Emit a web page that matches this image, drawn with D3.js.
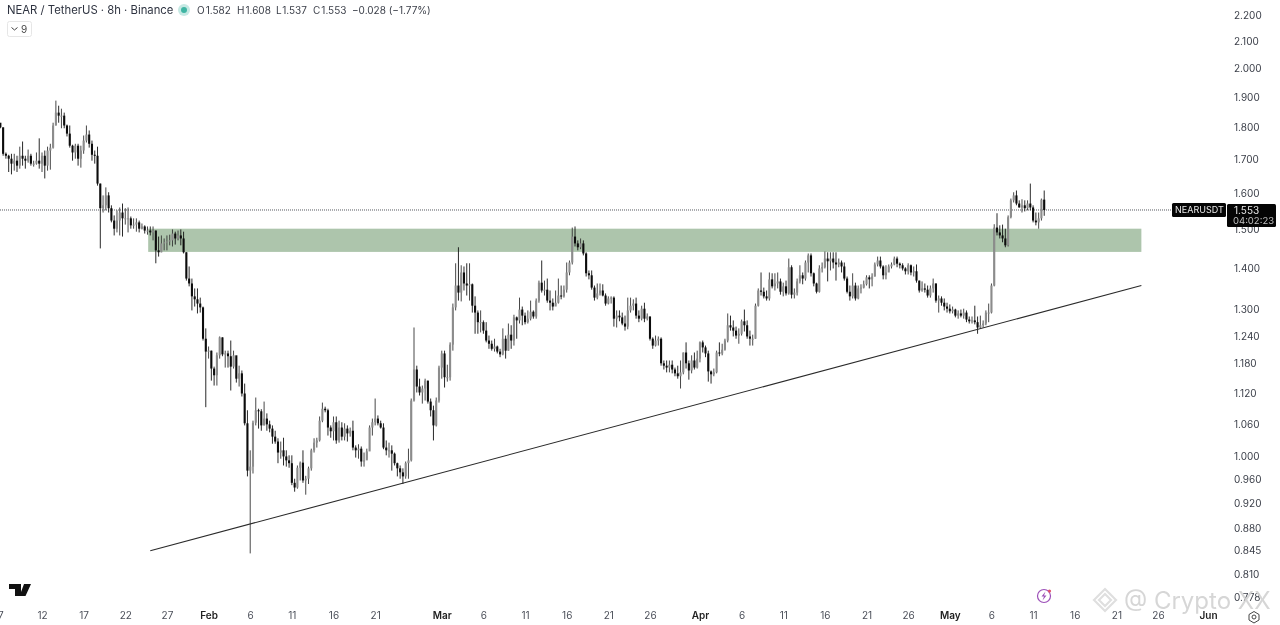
<!DOCTYPE html>
<html><head><meta charset="utf-8">
<script src="https://cdn.jsdelivr.net/npm/d3@7"></script>
<style>
html,body{margin:0;padding:0;background:#fff;overflow:hidden}
svg{display:block;filter:blur(0.3px)}
text{font-family:"Inter","Liberation Sans",sans-serif}
.axis text{font-size:10px;fill:#3a3e48}
.axis path,.axis line{display:none}
</style></head><body>
<svg id="c" width="1280" height="625"></svg>
<script>
const firstOpen = 1.815;
const closes = [
1.800,1.717,1.711,1.702,1.687,1.696,1.681,1.711,1.702,1.696,
1.711,1.687,1.687,1.696,1.687,1.711,1.681,1.727,1.736,1.806,
1.848,1.838,1.838,1.806,1.780,1.742,1.721,1.742,1.702,1.727,
1.758,1.777,1.748,1.714,1.711,1.628,1.558,1.566,1.594,1.558,
1.524,1.502,1.524,1.546,1.530,1.530,1.530,1.511,1.513,1.519,
1.502,1.508,1.497,1.497,1.492,1.497,1.445,1.440,1.463,1.466,
1.468,1.471,1.489,1.476,1.484,1.476,1.440,1.374,1.362,1.331,
1.324,1.314,1.305,1.234,1.206,1.208,1.170,1.156,1.198,1.237,
1.200,1.202,1.196,1.174,1.198,1.149,1.160,1.119,1.061,0.975,
0.982,1.062,1.086,1.084,1.057,1.070,1.059,1.051,1.036,1.027,
1.007,1.011,1.000,0.993,0.988,0.954,0.946,0.980,0.989,0.958,
0.961,0.979,1.011,1.025,1.029,1.066,1.089,1.086,1.053,1.046,
1.063,1.029,1.053,1.036,1.051,1.042,1.047,1.016,1.011,1.014,
0.991,0.993,1.009,1.053,1.063,1.070,1.061,1.053,1.016,1.011,
1.011,1.005,0.988,0.979,0.972,0.965,0.988,0.993,1.105,1.168,
1.133,1.121,1.129,1.145,1.103,1.086,1.057,1.105,1.172,1.202,
1.152,1.152,1.221,1.305,1.357,1.340,1.389,1.362,1.357,1.360,
1.309,1.293,1.271,1.271,1.252,1.230,1.223,1.212,1.217,1.206,
1.200,1.234,1.208,1.243,1.230,1.282,1.275,1.300,1.286,1.271,
1.279,1.295,1.284,1.321,1.364,1.345,1.347,1.321,1.316,1.307,
1.316,1.333,1.331,1.347,1.389,1.414,1.481,1.463,1.453,1.463,
1.437,1.387,1.382,1.352,1.328,1.338,1.345,1.333,1.314,1.326,
1.328,1.279,1.286,1.282,1.268,1.261,1.298,1.309,1.314,1.286,
1.279,1.302,1.279,1.284,1.234,1.219,1.230,1.234,1.181,1.176,
1.172,1.178,1.168,1.160,1.154,1.162,1.204,1.181,1.166,1.187,
1.172,1.191,1.226,1.215,1.202,1.164,1.158,1.162,1.204,1.202,
1.210,1.230,1.264,1.259,1.252,1.241,1.245,1.273,1.264,1.239,
1.234,1.234,1.309,1.345,1.342,1.331,1.326,1.372,1.355,1.362,
1.367,1.342,1.355,1.338,1.402,1.335,1.340,1.367,1.382,1.374,
1.414,1.432,1.387,1.362,1.342,1.399,1.402,1.424,1.417,1.424,
1.414,1.409,1.414,1.404,1.374,1.342,1.331,1.357,1.326,1.350,
1.352,1.360,1.377,1.372,1.379,1.409,1.419,1.404,1.382,1.389,
1.404,1.409,1.424,1.411,1.407,1.399,1.392,1.407,1.389,1.392,
1.369,1.345,1.350,1.347,1.333,1.350,1.362,1.321,1.326,1.316,
1.307,1.302,1.296,1.300,1.286,1.291,1.286,1.293,1.277,1.273,
1.275,1.271,1.259,1.264,1.268,1.293,1.293,1.357,1.505,1.492,
1.484,1.476,1.458,1.533,1.580,1.594,1.571,1.560,1.566,1.558,
1.571,1.560,1.524,1.519,1.530,1.582,1.553];
const highs = [
1.806,1.800,1.721,1.714,1.717,1.717,1.711,1.739,1.755,1.711,
1.730,1.717,1.696,1.721,1.765,1.721,1.727,1.739,1.748,1.815,
1.888,1.871,1.861,1.848,1.809,1.806,1.745,1.748,1.748,1.742,
1.774,1.806,1.790,1.758,1.727,1.739,1.628,1.594,1.617,1.603,
1.566,1.538,1.552,1.560,1.571,1.558,1.560,1.535,1.530,1.530,
1.524,1.516,1.511,1.508,1.508,1.508,1.497,1.481,1.484,1.476,
1.484,1.486,1.500,1.494,1.497,1.500,1.494,1.440,1.404,1.374,
1.350,1.350,1.328,1.307,1.257,1.217,1.208,1.174,1.204,1.239,
1.237,1.208,1.208,1.230,1.208,1.196,1.176,1.166,1.139,1.086,
1.011,1.066,1.111,1.089,1.088,1.103,1.080,1.066,1.057,1.047,
1.033,1.027,1.034,1.011,1.002,1.002,0.961,0.984,0.991,1.011,
0.966,0.982,1.014,1.033,1.034,1.074,1.101,1.093,1.089,1.057,
1.074,1.074,1.066,1.063,1.061,1.057,1.053,1.066,1.020,1.022,
1.018,1.007,1.014,1.057,1.070,1.109,1.076,1.066,1.061,1.029,
1.025,1.020,1.007,0.989,0.984,0.979,0.991,1.014,1.109,1.259,
1.176,1.149,1.135,1.149,1.145,1.109,1.095,1.111,1.176,1.208,
1.208,1.178,1.226,1.314,1.412,1.453,1.407,1.404,1.412,1.412,
1.362,1.331,1.298,1.298,1.275,1.271,1.241,1.230,1.234,1.219,
1.212,1.257,1.241,1.268,1.264,1.288,1.284,1.328,1.307,1.293,
1.298,1.321,1.298,1.326,1.369,1.419,1.369,1.374,1.345,1.326,
1.345,1.374,1.357,1.357,1.414,1.419,1.505,1.508,1.471,1.476,
1.471,1.440,1.394,1.394,1.357,1.362,1.362,1.360,1.338,1.331,
1.331,1.331,1.298,1.298,1.293,1.286,1.328,1.328,1.324,1.328,
1.298,1.309,1.316,1.291,1.284,1.237,1.241,1.239,1.237,1.187,
1.187,1.187,1.187,1.172,1.176,1.187,1.204,1.226,1.187,1.198,
1.204,1.208,1.228,1.230,1.219,1.208,1.166,1.170,1.208,1.226,
1.223,1.234,1.291,1.286,1.275,1.261,1.257,1.277,1.300,1.275,
1.252,1.243,1.314,1.350,1.389,1.352,1.345,1.389,1.387,1.387,
1.389,1.374,1.364,1.369,1.424,1.407,1.350,1.374,1.407,1.389,
1.419,1.437,1.437,1.389,1.364,1.407,1.414,1.442,1.440,1.440,
1.440,1.440,1.424,1.419,1.414,1.379,1.357,1.387,1.364,1.357,
1.360,1.369,1.382,1.382,1.387,1.414,1.429,1.429,1.407,1.407,
1.409,1.414,1.429,1.429,1.414,1.412,1.402,1.412,1.409,1.404,
1.409,1.369,1.367,1.362,1.357,1.357,1.374,1.362,1.333,1.331,
1.326,1.316,1.312,1.307,1.302,1.298,1.300,1.302,1.298,1.284,
1.284,1.309,1.284,1.286,1.275,1.298,1.314,1.362,1.514,1.544,
1.511,1.513,1.502,1.538,1.585,1.603,1.608,1.580,1.583,1.580,
1.580,1.628,1.566,1.546,1.546,1.585,1.608];
const lows = [
1.797,1.711,1.702,1.662,1.655,1.666,1.662,1.672,1.681,1.672,
1.690,1.681,1.678,1.684,1.672,1.662,1.643,1.666,1.669,1.733,
1.806,1.815,1.797,1.797,1.771,1.736,1.696,1.702,1.681,1.675,
1.717,1.752,1.736,1.696,1.687,1.622,1.450,1.546,1.552,1.546,
1.519,1.484,1.492,1.484,1.481,1.513,1.492,1.502,1.502,1.494,
1.492,1.500,1.489,1.486,1.484,1.471,1.412,1.429,1.440,1.445,
1.445,1.458,1.455,1.460,1.471,1.458,1.437,1.369,1.355,1.298,
1.307,1.291,1.293,1.230,1.092,1.191,1.145,1.135,1.135,1.191,
1.196,1.172,1.172,1.125,1.170,1.141,1.133,1.113,1.057,0.965,
0.841,0.970,1.057,1.051,1.047,1.057,1.047,1.044,1.023,1.023,
0.988,0.996,0.984,0.982,0.980,0.950,0.939,0.944,0.958,0.954,
0.934,0.952,0.975,1.007,1.016,1.027,1.063,1.082,1.038,1.034,
1.029,1.023,1.025,1.029,1.029,1.027,1.036,1.011,0.998,0.996,
0.982,0.982,0.996,1.011,1.038,1.057,1.057,1.051,1.013,1.002,
0.998,0.975,0.984,0.965,0.961,0.952,0.961,0.961,0.991,1.103,
1.121,1.115,1.099,1.105,1.099,1.074,1.029,1.055,1.101,1.149,
1.131,1.143,1.145,1.208,1.298,1.321,1.319,1.345,1.333,1.321,
1.293,1.245,1.245,1.248,1.245,1.226,1.212,1.208,1.206,1.202,
1.194,1.198,1.191,1.208,1.212,1.219,1.234,1.268,1.264,1.266,
1.268,1.275,1.279,1.279,1.316,1.340,1.333,1.316,1.298,1.298,
1.309,1.314,1.324,1.328,1.340,1.382,1.409,1.455,1.445,1.448,
1.432,1.379,1.372,1.347,1.321,1.324,1.333,1.331,1.309,1.312,
1.314,1.261,1.259,1.273,1.264,1.252,1.255,1.293,1.298,1.279,
1.271,1.275,1.271,1.275,1.230,1.212,1.217,1.219,1.176,1.168,
1.162,1.162,1.160,1.154,1.149,1.129,1.158,1.170,1.147,1.160,
1.168,1.170,1.183,1.204,1.194,1.143,1.139,1.154,1.160,1.196,
1.198,1.208,1.226,1.252,1.239,1.234,1.223,1.241,1.250,1.234,
1.219,1.219,1.234,1.307,1.333,1.326,1.321,1.321,1.350,1.345,
1.350,1.335,1.331,1.333,1.335,1.326,1.326,1.333,1.362,1.360,
1.369,1.389,1.379,1.355,1.338,1.340,1.389,1.399,1.367,1.394,
1.399,1.369,1.402,1.389,1.369,1.338,1.321,1.326,1.321,1.324,
1.338,1.350,1.357,1.350,1.355,1.379,1.404,1.399,1.372,1.372,
1.394,1.399,1.407,1.402,1.399,1.394,1.384,1.384,1.382,1.379,
1.364,1.340,1.342,1.340,1.328,1.328,1.340,1.316,1.293,1.309,
1.298,1.293,1.291,1.291,1.282,1.279,1.282,1.279,1.271,1.268,
1.268,1.266,1.245,1.257,1.259,1.264,1.271,1.291,1.355,1.484,
1.476,1.466,1.453,1.455,1.530,1.574,1.566,1.560,1.546,1.549,
1.552,1.552,1.519,1.511,1.502,1.524,1.537];

const priceTicks = [2.2,2.1,2.0,1.9,1.8,1.7,1.6,1.5,1.4,1.3,1.24,1.18,1.12,1.06,1.0,0.96,0.92,0.88,0.845,0.81,0.778];
const timeTicks = ["2025-01-07","2025-01-12","2025-01-17","2025-01-22","2025-01-27","2025-02-01","2025-02-06","2025-02-11","2025-02-16","2025-02-21","2025-03-01","2025-03-06","2025-03-11","2025-03-16","2025-03-21","2025-03-26","2025-04-01","2025-04-06","2025-04-11","2025-04-16","2025-04-21","2025-04-26","2025-05-01","2025-05-06","2025-05-11","2025-05-16","2025-05-21","2025-05-26","2025-06-01"];
const monthNames = {"2025-02-01":"Feb","2025-03-01":"Mar","2025-04-01":"Apr","2025-05-01":"May","2025-06-01":"Jun"};
const zoneDates = ["2025-01-24T18:00:00Z","2025-05-24T00:00:00Z"];
const zonePrices = [1.502,1.441];
const trendDates = ["2025-01-25T00:00:00Z","2025-05-24T00:00:00Z"];
const trendPrices = [0.845,1.357];
const lastPrice = 1.553;
const header = "NEAR / TetherUS · 8h · Binance";
const ohlc = [["O","1.582"],["H","1.608"],["L","1.537"],["C","1.553"]];
const change = "−0.028 (−1.77%)";

const svg = d3.select("#c");
const x = d3.scaleUtc().domain([new Date("2025-01-12T00:00:00Z"),new Date("2025-06-01T00:00:00Z")]).range([42,1208]);
const y = d3.scaleLog().domain([0.778,2.2]).range([597,15]);
const startMs = Date.UTC(2025,0,7);
const barMs = 8*3600*1000;
const candles = closes.map((c,i)=>({d:new Date(startMs+i*barMs),o:i?closes[i-1]:firstOpen,c,h:highs[i],l:lows[i]}));

// zone
svg.append("rect").attr("x",x(new Date(zoneDates[0]))).attr("width",x(new Date(zoneDates[1]))-x(new Date(zoneDates[0])))
  .attr("y",y(zonePrices[0])).attr("height",y(zonePrices[1])-y(zonePrices[0])).attr("fill","#adc5ac");

// last-price dotted line
svg.append("line").attr("x1",0).attr("x2",1172).attr("y1",y(lastPrice)).attr("y2",y(lastPrice))
  .attr("stroke","#55585f").attr("stroke-width",1).attr("stroke-dasharray","1 1");

// candles
const g = svg.append("g");
g.selectAll("line").data(candles).join("line")
  .attr("x1",d=>x(d.d)).attr("x2",d=>x(d.d)).attr("y1",d=>y(d.h)).attr("y2",d=>y(d.l))
  .attr("stroke",d=>d.c>=d.o?"#333":"#111").attr("stroke-width",0.9);
g.selectAll("rect").data(candles).join("rect")
  .attr("x",d=>x(d.d)-1.05).attr("width",2.1)
  .attr("y",d=>y(Math.max(d.o,d.c)))
  .attr("height",d=>Math.max(1,Math.abs(y(d.o)-y(d.c))))
  .attr("fill",d=>d.c>=d.o?"#8c8c8c":"#0c0c0c");

// trendline
svg.append("line").attr("x1",x(new Date(trendDates[0]))).attr("x2",x(new Date(trendDates[1])))
  .attr("y1",y(trendPrices[0])).attr("y2",y(trendPrices[1])).attr("stroke","#2a2a2a").attr("stroke-width",1.1);

// axes
svg.append("g").attr("class","axis").attr("transform","translate(1228,0)")
  .call(d3.axisRight(y).tickValues(priceTicks).tickFormat(d3.format(".3f")).tickSize(0).tickPadding(6));
const ax = svg.append("g").attr("class","axis").attr("transform","translate(0,612)")
  .call(d3.axisBottom(x).tickValues(timeTicks.map(t=>new Date(t+"T00:00:00Z")))
    .tickFormat(d=>{const k=d.toISOString().slice(0,10);return monthNames[k]||String(d.getUTCDate());}).tickSize(0).tickPadding(0));
ax.selectAll("text").attr("dy","0.71em").style("font-size","10px").style("font-weight",d=>monthNames[d.toISOString().slice(0,10)]?"600":"400")
  .style("fill",d=>monthNames[d.toISOString().slice(0,10)]?"#222":"#4a4e58");

// header
svg.append("text").attr("x",7).attr("y",14).attr("font-size",11.3).attr("fill","#2e3340").text(header);
svg.append("circle").attr("cx",184).attr("cy",10).attr("r",6).attr("fill","#c6e9e4");
svg.append("circle").attr("cx",184).attr("cy",10).attr("r",3).attr("fill","#3fb5a3");
const hdrX = [197,237,276,313];
ohlc.forEach((p,i)=>{
  const t = svg.append("text").attr("x",hdrX[i]).attr("y",14).attr("font-size",10).attr("fill","#3a3e48");
  t.append("tspan").text(p[0]);
  t.append("tspan").attr("dx",1).text(p[1]);
});
svg.append("text").attr("x",352).attr("y",14).attr("font-size",10).attr("fill","#3a3e48").text(change);
svg.append("rect").attr("x",7.5).attr("y",21.5).attr("width",24).attr("height",15).attr("rx",2).attr("fill","#fff").attr("stroke","#e6e6e6");
svg.append("path").attr("d","M11.5 27.5l3 2.5 3-2.5").attr("fill","none").attr("stroke","#444").attr("stroke-width",1);
svg.append("text").attr("x",21).attr("y",33).attr("font-size",10).attr("fill","#444").text("9");

// price labels
const ly = y(lastPrice);
svg.append("rect").attr("x",1172).attr("y",ly-7).attr("width",54).attr("height",14).attr("rx",1.5).attr("fill","#050505");
svg.append("text").attr("x",1175).attr("y",ly+3.5).attr("font-size",9).attr("fill","#e8e8e8").text("NEARUSDT");
svg.append("rect").attr("x",1227).attr("y",ly-6).attr("width",49).attr("height",23).attr("rx",1.5).attr("fill","#050505");
svg.append("text").attr("x",1234).attr("y",ly+4).attr("font-size",10).attr("fill","#e8e8e8").text("1.553");
svg.append("text").attr("x",1233).attr("y",ly+14).attr("font-size",9.5).attr("fill","#c0c0c0").text("04:02:23");

// TradingView mark
svg.append("path").attr("d","M9 584h12v12h-6v-7H9zM31 584l-5.5 12h-6l4.5-12z").attr("fill","#111");
// lightning badge
svg.append("circle").attr("cx",1044).attr("cy",596).attr("r",6.5).attr("fill","none").attr("stroke","#9c4fb8").attr("stroke-width",1.2);
svg.append("path").attr("d","M1045.5 591.5l-4 5h2.5l-1.5 4 4-5h-2.5z").attr("fill","#9c4fb8");
svg.append("circle").attr("cx",1049.5).attr("cy",591).attr("r",1.6).attr("fill","#e0506a");
// settings gear
svg.append("path").attr("d","M1254 611.5l5 3v5.5l-5 3-5-3v-5.5z").attr("fill","none").attr("stroke","#444").attr("stroke-width",1);
svg.append("circle").attr("cx",1254).attr("cy",617).attr("r",2).attr("fill","none").attr("stroke","#444");

// watermark
const wm = svg.append("g").attr("opacity",0.9);
wm.append("path").attr("d","M1105 589l11 11-11 11-11-11zM1105 594l6 6-6 6-6-6z").attr("fill","none").attr("stroke","#dcdcdc").attr("stroke-width",2.2);
wm.append("text").attr("x",1124).attr("y",609).attr("font-size",24).attr("fill","#d2d2d2").attr("font-family","Open Sans").text("@ Crypto XX");
</script>
</body></html>
